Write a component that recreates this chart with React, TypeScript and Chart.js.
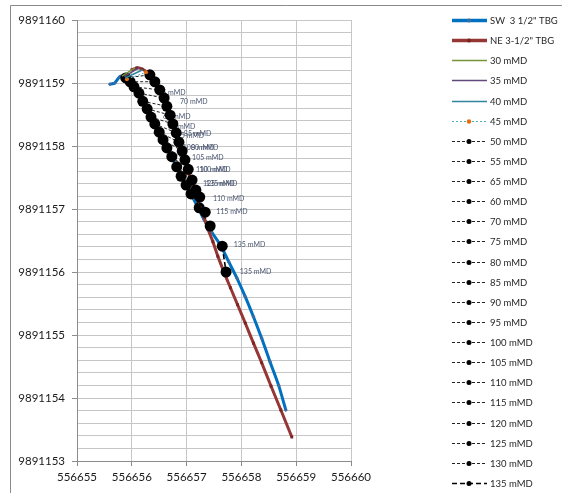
import React, { useEffect, useRef } from 'react';
import { Chart, registerables } from 'chart.js';

Chart.register(...registerables);

const X_MIN = 556655;
const X_MAX = 556660;
const Y_MIN = 9891153;
const Y_MAX = 9891160;
const X_STEP = 1;
const Y_STEP = 0.2;

// SW 3 1/2" TBG trajectory
const swX = [
  556655.60, 556655.69, 556655.78, 556655.88, 556655.95, 556656.04, 556656.13, 556656.20,
  556656.28, 556656.35, 556656.42, 556656.50, 556656.57, 556656.64, 556656.72, 556656.79,
  556656.88, 556656.95, 556657.03, 556657.12, 556657.21, 556657.32, 556657.46, 556657.63,
  556657.77, 556657.92, 556658.07, 556658.22, 556658.37, 556658.52, 556658.68, 556658.81,
];
const swY = [
  9891158.98, 9891159.00, 9891159.10, 9891159.11, 9891159.05, 9891158.95, 9891158.84, 9891158.73,
  9891158.60, 9891158.48, 9891158.37, 9891158.24, 9891158.11, 9891157.97, 9891157.84, 9891157.71,
  9891157.57, 9891157.44, 9891157.32, 9891157.17, 9891157.02, 9891156.83, 9891156.63, 9891156.41,
  9891156.16, 9891155.90, 9891155.61, 9891155.29, 9891154.95, 9891154.58, 9891154.20, 9891153.81,
];

// NE 3-1/2" TBG trajectory
const neX = [
  556656.00, 556656.09, 556656.19, 556656.28, 556656.37, 556656.46, 556656.53, 556656.61,
  556656.66, 556656.72, 556656.77, 556656.82, 556656.88, 556656.93, 556656.99, 556657.04,
  556657.10, 556657.15, 556657.23, 556657.32, 556657.39, 556657.48, 556657.57, 556657.68,
  556657.80, 556657.93, 556658.07, 556658.22, 556658.37, 556658.54, 556658.72, 556658.92,
];
const neY = [
  9891159.21, 9891159.24, 9891159.22, 9891159.17, 9891159.08, 9891158.97, 9891158.84, 9891158.70,
  9891158.56, 9891158.41, 9891158.27, 9891158.13, 9891157.98, 9891157.84, 9891157.70, 9891157.56,
  9891157.40, 9891157.24, 9891157.06, 9891156.87, 9891156.68, 9891156.48, 9891156.25, 9891156.00,
  9891155.75, 9891155.48, 9891155.19, 9891154.87, 9891154.56, 9891154.19, 9891153.81, 9891153.38,
];

// Measured-depth tie lines: point on SW (1) and point on NE (2)
const mmdNames = [
  '30 mMD', '35 mMD', '40 mMD', '45 mMD', '50 mMD', '55 mMD', '65 mMD', '60 mMD', '70 mMD',
  '75 mMD', '80 mMD', '85 mMD', '90 mMD', '95 mMD', '100 mMD', '105 mMD', '110 mMD',
  '115 mMD', '120 mMD', '125 mMD', '130 mMD', '135 mMD',
];
const mmdX1 = [
  556655.82, 556655.86, 556655.88, 556655.91, 556655.89, 556655.97, 556656.04, 556656.13, 556656.20,
  556656.28, 556656.35, 556656.42, 556656.50, 556656.57, 556656.64, 556656.73, 556656.82,
  556656.90, 556656.99, 556657.08, 556657.23, 556657.65,
];
const mmdY1 = [
  9891159.11, 9891159.10, 9891159.08, 9891159.06, 9891159.08, 9891159.02, 9891158.94, 9891158.84, 9891158.71,
  9891158.59, 9891158.46, 9891158.35, 9891158.22, 9891158.10, 9891157.97, 9891157.83, 9891157.67,
  9891157.52, 9891157.38, 9891157.24, 9891157.02, 9891156.41,
];
const mmdX2 = [
  556656.06, 556656.13, 556656.20, 556656.26, 556656.33, 556656.42, 556656.51, 556656.59, 556656.64,
  556656.70, 556656.75, 556656.81, 556656.86, 556656.92, 556656.97, 556657.03, 556657.10,
  556657.17, 556657.24, 556657.34, 556657.43, 556657.72,
];
const mmdY2 = [
  9891159.24, 9891159.24, 9891159.21, 9891159.17, 9891159.13, 9891159.02, 9891158.89, 9891158.76, 9891158.63,
  9891158.49, 9891158.35, 9891158.21, 9891158.06, 9891157.92, 9891157.78, 9891157.63, 9891157.46,
  9891157.30, 9891157.19, 9891156.95, 9891156.73, 9891156.00,
];

// Data labels as shown in the chart
const labelTexts = [
  '75 mMD', '70 mMD', '65 mMD', '60 mMD', '95 mMD', '85 mMD', '100 mMD', '80 mMD', '105 mMD',
  '110 mMD', '100 mMD', '125 mMD', '135 mMD', '110 mMD', '115 mMD', '135 mMD', '135 mMD',
];
const labelX = [
  556656.48, 556656.88, 556656.57, 556656.66, 556656.82, 556656.95, 556656.93, 556657.08, 556657.10,
  556657.17, 556657.23, 556657.30, 556657.35, 556657.48, 556657.54, 556657.86, 556657.97,
];
const labelY = [
  9891158.84, 9891158.70, 9891158.46, 9891158.30, 9891158.16, 9891158.19, 9891157.98, 9891157.98, 9891157.81,
  9891157.62, 9891157.62, 9891157.40, 9891157.40, 9891157.17, 9891156.95, 9891156.43, 9891156.00,
];

const FONT = 'Lato, "Liberation Sans", sans-serif';

function mmdStyle(i: number, n: number) {
  if (i === 0) return { borderColor: '#77933C', borderWidth: 1.5, borderDash: [], pointRadius: 0, pointBackgroundColor: '#77933C', legendRadius: 0 };
  if (i === 1) return { borderColor: '#604A7B', borderWidth: 1.5, borderDash: [], pointRadius: 0, pointBackgroundColor: '#604A7B', legendRadius: 0 };
  if (i === 2) return { borderColor: '#31859C', borderWidth: 1.5, borderDash: [], pointRadius: 0, pointBackgroundColor: '#31859C', legendRadius: 0 };
  if (i === 3) return { borderColor: '#4BACC6', borderWidth: 1, borderDash: [2, 2], pointRadius: 2, pointBackgroundColor: '#E46C0A', legendRadius: 2.2 };
  if (i === n - 1) return { borderColor: '#000000', borderWidth: 1.6, borderDash: [5, 3], pointRadius: 5.5, pointBackgroundColor: '#000000', legendRadius: 2.5 };
  return { borderColor: '#222222', borderWidth: 1, borderDash: [3, 2], pointRadius: 5.5, pointBackgroundColor: '#000000', legendRadius: 2.5 };
}

export default function App() {
  const ref = useRef<HTMLCanvasElement>(null);

  useEffect(() => {
    document.body.style.margin = '0';
    const canvas = ref.current;
    if (!canvas) return;

    const datasets: any[] = [
      {
        label: 'SW  3 1/2" TBG',
        data: swX.map((x, i) => ({ x, y: swY[i] })),
        showLine: true,
        borderColor: '#0070C0',
        borderWidth: 3,
        tension: 0.2,
        pointRadius: 2,
        pointStyle: 'rectRot',
        pointBackgroundColor: '#3D6CA3',
        pointBorderWidth: 0,
        order: 20,
        legendRadius: 2,
        legendWidth: 3.5,
      },
      {
        label: 'NE 3-1/2" TBG',
        data: neX.map((x, i) => ({ x, y: neY[i] })),
        showLine: true,
        borderColor: '#953735',
        borderWidth: 3,
        tension: 0.1,
        pointRadius: 2,
        pointStyle: 'rect',
        pointBackgroundColor: '#7A2422',
        pointBorderWidth: 0,
        order: 19,
        legendRadius: 2,
        legendWidth: 3.5,
      },
    ];
    mmdNames.forEach((name, i) => {
      const s = mmdStyle(i, mmdNames.length);
      datasets.push({
        label: name,
        data: [
          { x: mmdX1[i], y: mmdY1[i] },
          { x: mmdX2[i], y: mmdY2[i] },
        ],
        showLine: true,
        borderColor: s.borderColor,
        borderWidth: s.borderWidth,
        borderDash: s.borderDash,
        pointRadius: s.pointRadius,
        pointBackgroundColor: s.pointBackgroundColor,
        pointBorderWidth: 0,
        order: i < 4 ? 2 : 5,
        legendRadius: s.legendRadius,
        legendWidth: s.borderWidth,
      });
    });

    const framePlugin = {
      id: 'frame',
      beforeDraw(chart: any) {
        const c = chart.ctx;
        c.save();
        c.fillStyle = '#ffffff';
        c.fillRect(0, 0, chart.width, chart.height);
        c.strokeStyle = '#8a8a8a';
        c.lineWidth = 1;
        c.beginPath();
        c.moveTo(10.5, chart.height + 5);
        c.lineTo(10.5, 5.5);
        c.lineTo(chart.width + 5, 5.5);
        c.stroke();
        c.restore();
      },
    };

    const labelPlugin = {
      id: 'pointLabels',
      beforeDatasetsDraw(chart: any) {
        const c = chart.ctx;
        const xs = chart.scales.x;
        const ys = chart.scales.y;
        c.save();
        c.font = `7px ${FONT}`;
        c.fillStyle = '#4A5670';
        c.textBaseline = 'middle';
        c.textAlign = 'left';
        labelTexts.forEach((t, i) => {
          c.fillText(t, xs.getPixelForValue(labelX[i]), ys.getPixelForValue(labelY[i]));
        });
        c.restore();
      },
    };

    const legendPlugin = {
      id: 'customLegend',
      afterDraw(chart: any) {
        const c = chart.ctx;
        const x0 = 452;
        const x1 = 487;
        const xm = 469;
        const tx = 490;
        const top = 20;
        const gap = 20.13;
        c.save();
        chart.data.datasets.forEach((ds: any, i: number) => {
          const y = Math.round(top + i * gap) + 0.5;
          c.strokeStyle = ds.borderColor;
          c.lineWidth = ds.legendWidth;
          c.setLineDash(ds.borderDash || []);
          c.beginPath();
          c.moveTo(x0, y);
          c.lineTo(x1, y);
          c.stroke();
          c.setLineDash([]);
          if (ds.legendRadius > 0) {
            c.fillStyle = ds.pointBackgroundColor;
            c.beginPath();
            c.arc(xm, y, ds.legendRadius, 0, Math.PI * 2);
            c.fill();
          }
          c.fillStyle = '#262626';
          c.font = `9.5px ${FONT}`;
          c.textBaseline = 'middle';
          c.textAlign = 'left';
          c.fillText(ds.label, tx, y);
        });
        c.restore();
      },
    };

    const isWhole = (v: number) => Math.abs(v - Math.round(v)) < 1e-6;

    const chart = new Chart(canvas, {
      type: 'scatter',
      data: { datasets },
      options: {
        animation: false,
        responsive: false,
        devicePixelRatio: 1,
        layout: { padding: { left: 0, top: 20, right: 211, bottom: 0 } },
        plugins: {
          legend: { display: false },
          tooltip: { enabled: false },
        },
        scales: {
          x: {
            type: 'linear',
            min: X_MIN,
            max: X_MAX,
            ticks: {
              stepSize: X_STEP,
              autoSkip: false,
              maxRotation: 0,
              padding: 4,
              color: '#1a1a1a',
              font: { family: FONT, size: 11.5 },
              callback: (v: any) => String(Math.round(Number(v))),
            },
            grid: { color: '#c6c6c6', lineWidth: 1, tickLength: 5, tickColor: '#8c8c8c' },
            border: { color: '#8c8c8c', width: 1 },
            afterFit: (s: any) => { s.height = 32; },
          },
          y: {
            type: 'linear',
            min: Y_MIN,
            max: Y_MAX,
            ticks: {
              stepSize: Y_STEP,
              autoSkip: false,
              padding: 7,
              color: '#1a1a1a',
              font: { family: FONT, size: 11.5 },
              callback: (v: any) => (isWhole(Number(v)) ? String(Math.round(Number(v))) : ''),
            },
            grid: {
              color: '#c6c6c6',
              lineWidth: 1,
              tickLength: 5,
              tickColor: (ctx: any) => (ctx.tick && isWhole(ctx.tick.value) ? '#8c8c8c' : 'rgba(0,0,0,0)'),
            },
            border: { color: '#8c8c8c', width: 1 },
            afterFit: (s: any) => { s.width = 77; },
          },
        },
      } as any,
      plugins: [framePlugin, labelPlugin, legendPlugin],
    });

    return () => chart.destroy();
  }, []);

  return (
    <canvas
      ref={ref}
      width={562}
      height={493}
      style={{ display: 'block', width: 562, height: 493 }}
    />
  );
}
